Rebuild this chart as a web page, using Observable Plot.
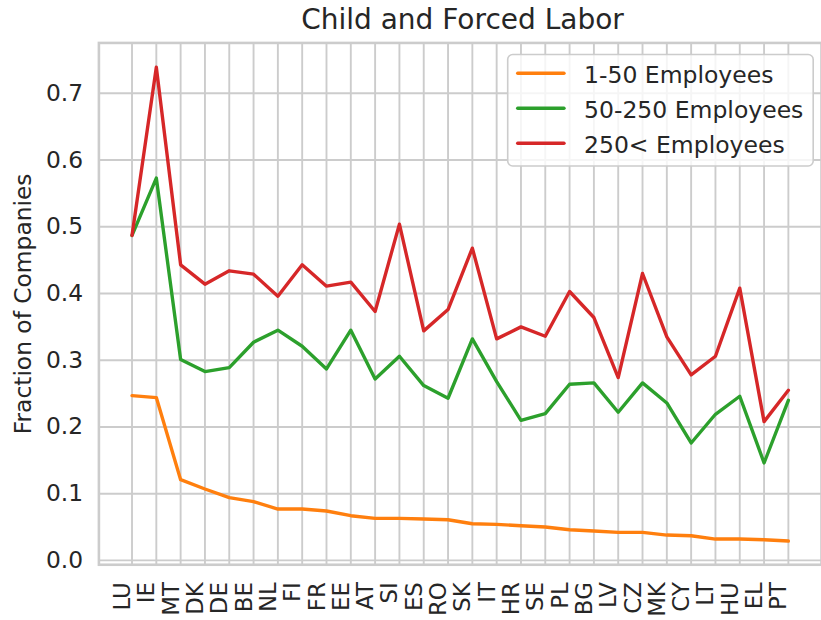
<!DOCTYPE html>
<html>
<head>
<meta charset="utf-8">
<script src="https://cdn.jsdelivr.net/npm/d3@7"></script>
<script src="https://cdn.jsdelivr.net/npm/@observablehq/plot@0.6"></script>
<style>
  html, body { margin: 0; padding: 0; background: #fff; overflow: hidden; }
  #wrap { position: relative; width: 821px; height: 620px; overflow: hidden; font-family: "DejaVu Sans", sans-serif; }
  #overlay { position: absolute; left: 0; top: 0; pointer-events: none; }
</style>
</head>
<body>
<div id="wrap"></div>
<script>
const title = "Child and Forced Labor";
const yLabel = "Fraction of Companies";
const countries = ["LU","IE","MT","DK","DE","BE","NL","FI","FR","EE","AT","SI","ES","RO","SK","IT","HR","SE","PL","BG","LV","CZ","MK","CY","LT","HU","EL","PT"];
const seriesNames = ["1-50 Employees", "50-250 Employees", "250< Employees"];
const seriesColors = ["#ff7f0e", "#2ca02c", "#d62728"];
const small = [0.247,0.244,0.121,0.107,0.094,0.088,0.077,0.077,0.074,0.067,0.063,0.063,0.062,0.061,0.055,0.054,0.052,0.050,0.046,0.044,0.042,0.042,0.038,0.037,0.032,0.032,0.031,0.029];
const medium = [0.487,0.573,0.301,0.283,0.289,0.327,0.345,0.321,0.287,0.345,0.272,0.306,0.262,0.243,0.332,0.268,0.210,0.220,0.264,0.266,0.222,0.266,0.236,0.176,0.219,0.246,0.146,0.240];
const large = [0.487,0.739,0.443,0.414,0.434,0.429,0.396,0.443,0.411,0.417,0.373,0.504,0.344,0.376,0.468,0.332,0.350,0.336,0.403,0.364,0.274,0.430,0.335,0.278,0.306,0.408,0.208,0.255];
const yTicks = [0, 0.1, 0.2, 0.3, 0.4, 0.5, 0.6, 0.7];

const seriesValues = [small, medium, large];
const idx = countries.map((c, i) => i);
const gridColor = "#cccccc";
const textColor = "#262626";
const fontSize = 23.5;
const xFontSize = 23;

const lineMarks = seriesValues.map((vals, s) =>
  Plot.lineY(vals, {x: (d, i) => i, y: d => d, stroke: seriesColors[s], strokeWidth: 3.4, strokeLinecap: "round", strokeLinejoin: "round"})
);

const chart = Plot.plot({
  width: 826,
  height: 620,
  marginLeft: 99,
  marginRight: 0,
  marginTop: 42.7,
  marginBottom: 52.3,
  style: {fontFamily: "DejaVu Sans", fontSize: fontSize + "px", color: textColor, background: "transparent"},
  x: {type: "linear", domain: [-1.362, 28.362], axis: null},
  y: {domain: [-0.0065, 0.7755], axis: null},
  marks: [
    Plot.gridX(idx, {stroke: gridColor, strokeOpacity: 1, strokeWidth: 1.9}),
    Plot.gridY(yTicks, {stroke: gridColor, strokeOpacity: 1, strokeWidth: 1.9}),
    Plot.frame({stroke: gridColor, strokeWidth: 2.6}),
    ...lineMarks,
    Plot.axisY(yTicks, {tickSize: 0, tickPadding: 16, tickFormat: d3.format(".1f"), fontSize: fontSize, fill: textColor, label: null}),
    Plot.text(countries, {x: (d, i) => i, text: d => d, frameAnchor: "bottom", rotate: -90, textAnchor: "end", lineAnchor: "bottom", dx: -2, dy: 17.5, fontSize: xFontSize, fill: textColor}),
    Plot.text([yLabel], {frameAnchor: "left", rotate: -90, textAnchor: "middle", lineAnchor: "bottom", dx: -68, fontSize: fontSize, fill: textColor})
  ]
});

const wrap = document.getElementById("wrap");
wrap.appendChild(chart);

// overlay: title and legend
const ov = d3.select(wrap).append("svg")
  .attr("id", "overlay")
  .attr("width", 821).attr("height", 620)
  .style("font-family", "DejaVu Sans");

ov.append("text")
  .attr("x", 462.5).attr("y", 29.3)
  .attr("text-anchor", "middle")
  .attr("font-size", 28)
  .attr("fill", textColor)
  .text(title);

const lg = ov.append("g");
lg.append("rect")
  .attr("x", 507.7).attr("y", 54.5).attr("width", 305.5).attr("height", 111.5)
  .attr("rx", 5).attr("ry", 5)
  .attr("fill", "rgba(255,255,255,0.8)")
  .attr("stroke", gridColor).attr("stroke-width", 1.6);

const rows = lg.selectAll("g.row").data(seriesNames).join("g").attr("class", "row")
  .attr("transform", (d, i) => `translate(0, ${73.3 + i * 35})`);
rows.append("line")
  .attr("x1", 517.7).attr("x2", 564)
  .attr("y1", 0).attr("y2", 0)
  .attr("stroke", (d, i) => seriesColors[i])
  .attr("stroke-width", 3.4)
  .attr("stroke-linecap", "round");
rows.append("text")
  .attr("x", 584).attr("y", 9.2)
  .attr("font-size", fontSize)
  .attr("fill", textColor)
  .text(d => d);
</script>
</body>
</html>
